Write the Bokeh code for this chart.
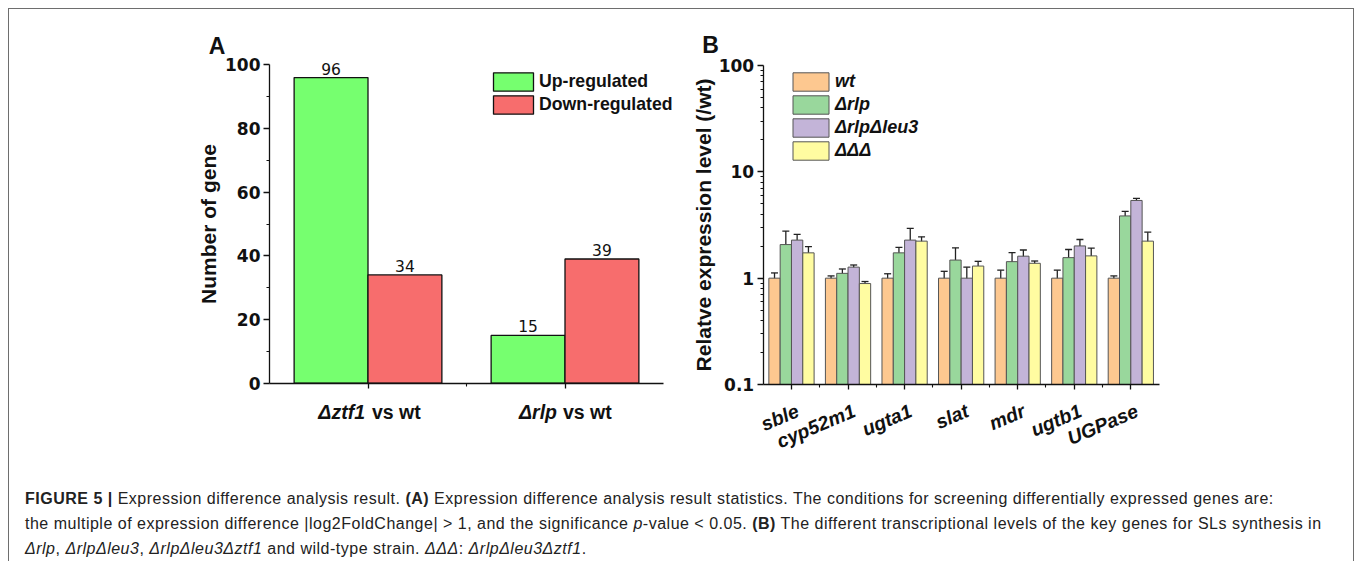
import numpy as np
from bokeh.plotting import figure
from bokeh.models import (ColumnDataSource, FixedTicker, Label, LabelSet, Legend, LegendItem,
                          Whisker, TeeHead, CustomJSTickFormatter, Div)
from bokeh.layouts import row, column
from bokeh.embed import file_html
from bokeh.resources import INLINE
from bokeh.core.properties import value

# ---------------- Panel A data ----------------
comparisons = ["Δztf1", "Δrlp"]
comparison_suffix = "vs wt"
a_series = ["Up-regulated", "Down-regulated"]
up_regulated = [96, 15]
down_regulated = [34, 39]
a_yticks = [0, 20, 40, 60, 80, 100]
a_yminor = [10, 30, 50, 70, 90]

# ---------------- Panel B data ----------------
genes = ["sble", "cyp52m1", "ugta1", "slat", "mdr", "ugtb1", "UGPase"]
strains = ["wt", "Δrlp", "ΔrlpΔleu3", "ΔΔΔ"]
expr_wt = [1.0, 1.0, 1.0, 1.0, 1.0, 1.0, 1.0]
err_wt = [0.12, 0.05, 0.10, 0.16, 0.19, 0.19, 0.05]
expr_rlp = [2.07, 1.11, 1.73, 1.48, 1.43, 1.56, 3.85]
err_rlp = [0.70, 0.11, 0.22, 0.45, 0.31, 0.30, 0.40]
expr_rlp_leu3 = [2.28, 1.27, 2.28, 1.00, 1.61, 2.01, 5.38]
err_rlp_leu3 = [0.30, 0.06, 0.66, 0.27, 0.23, 0.30, 0.25]
expr_ddd = [1.73, 0.89, 2.23, 1.30, 1.38, 1.62, 2.23]
err_ddd = [0.25, 0.04, 0.22, 0.14, 0.07, 0.30, 0.48]
b_yticks = [0.1, 1, 10, 100]

# ---------------- styles / layout geometry ----------------
A_COLORS = ["#76FF6F", "#F76D6D"]
B_COLORS = ["#FDC890", "#99D79C", "#C3B4D8", "#FFFCA1"]
ARIAL = "Liberation Sans"
DEJAVU = "DejaVu Sans"
INK = "#111111"

TOP_H = 468
A_W, B_W = 681, 663
# panel A: plot box inside its canvas (pixels): left, right, top, bottom
A_BOX = (260.0, 654.0, 55.3, 373.7)
# panel B: plot box inside its canvas (pixels)
B_BOX = (72.7, 468.6, 56.0, 375.0)


def lin_range(p0, p1, v0, v1, size):
    """data range covering the whole canvas, given that v0 sits at pixel p0 and v1 at p1"""
    k = (v1 - v0) / (p1 - p0)
    return v0 - p0 * k, v0 + (size - p0) * k


def style_axis(ax):
    ax.axis_line_width = 1.3
    ax.axis_line_color = INK
    ax.major_tick_line_color = INK
    ax.minor_tick_line_color = INK
    ax.major_tick_line_width = 1.3
    ax.minor_tick_line_width = 1.1
    ax.major_tick_in = 0
    ax.major_tick_out = 6
    ax.minor_tick_in = 0
    ax.minor_tick_out = 3
    ax.major_label_text_color = INK
    ax.axis_label_text_color = INK


# ================= Panel A =================
ax0, ax1 = lin_range(A_BOX[0], A_BOX[1], 0.5, 2.5, A_W)
ay1, ay0 = lin_range(A_BOX[2], A_BOX[3], 100, 0, TOP_H)
pA = figure(width=A_W, height=TOP_H, x_range=(ax0, ax1), y_range=(ay0, ay1),
            output_backend="svg", toolbar_location=None, min_border=0)
pA.grid.visible = False
pA.outline_line_color = None
pA.background_fill_color = None
pA.border_fill_color = None

xa = np.arange(1, len(comparisons) + 1)
bw_a = 0.375
srcA = [
    ColumnDataSource(dict(x=xa - bw_a / 2, top=up_regulated, lab=[str(v) for v in up_regulated])),
    ColumnDataSource(dict(x=xa + bw_a / 2, top=down_regulated, lab=[str(v) for v in down_regulated])),
]
rendA = []
for src, col in zip(srcA, A_COLORS):
    r = pA.vbar(x="x", top="top", bottom=0, width=bw_a, source=src,
                fill_color=col, line_color=INK, line_width=1.3)
    rendA.append(r)
    pA.add_layout(LabelSet(x="x", y="top", text="lab", source=src, text_align="center",
                           text_baseline="alphabetic", y_offset=3,
                           text_font=value(DEJAVU), text_font_size=value("15.5px"),
                           text_color=INK))

style_axis(pA.yaxis[0])
style_axis(pA.xaxis[0])
pA.yaxis.fixed_location = 0.5
pA.yaxis.bounds = (0, 100)
pA.yaxis.ticker = FixedTicker(ticks=a_yticks, minor_ticks=a_yminor)
pA.yaxis.axis_label = "Number of gene"
pA.yaxis.axis_label_text_font = ARIAL
pA.yaxis.axis_label_text_font_style = "bold"
pA.yaxis.axis_label_text_font_size = "21px"
pA.yaxis.axis_label_standoff = 2
pA.yaxis.major_label_text_font = DEJAVU
pA.yaxis.major_label_text_font_style = "bold"
pA.yaxis.major_label_text_font_size = "17px"
pA.yaxis.major_label_standoff = 3
pA.xaxis.fixed_location = 0
pA.xaxis.bounds = (0.5, 2.5)
pA.xaxis.ticker = FixedTicker(ticks=list(xa), minor_ticks=[1.5])
pA.xaxis.formatter = CustomJSTickFormatter(code="return '';")
pA.xaxis.major_tick_out = 5

# category labels: italic strain + upright "vs wt"
a_split_offsets = [(-3, 4), (-8, -2)]
for xi, name, (o1, o2) in zip(xa, comparisons, a_split_offsets):
    pA.add_layout(Label(x=float(xi), y=-9.83, x_offset=o1, y_offset=2, text=name,
                        text_align="right", text_baseline="alphabetic", text_font=ARIAL,
                        text_font_style="bold italic", text_font_size="19.5px",
                        text_color=INK))
    pA.add_layout(Label(x=float(xi), y=-9.83, x_offset=o2, y_offset=2, text=comparison_suffix,
                        text_align="left", text_baseline="alphabetic", text_font=ARIAL,
                        text_font_style="bold", text_font_size="19.5px",
                        text_color=INK))

legA = Legend(items=[LegendItem(label=s, renderers=[r]) for s, r in zip(a_series, rendA)],
              location=(479, 361), orientation="vertical", padding=0, margin=0, spacing=0,
              glyph_width=50, glyph_height=23, label_height=23, label_standoff=1,
              label_text_font=ARIAL, label_text_font_style="bold",
              label_text_font_size="17.7px", label_text_color=INK,
              border_line_color=None, background_fill_alpha=0)
pA.add_layout(legA)

pA.add_layout(Label(x=0.2335, y=106.06, text="A", text_align="center",
                    text_baseline="alphabetic", text_font=ARIAL, text_font_style="bold",
                    text_font_size="23px", text_color=INK))

# ================= Panel B =================
bx0, bx1 = lin_range(B_BOX[0], B_BOX[1], 0.5, 7.5, B_W)
ly1, ly0 = lin_range(B_BOX[2], B_BOX[3], 2.0, -1.0, TOP_H)
pB = figure(width=B_W, height=TOP_H, x_range=(bx0, bx1), y_range=(10 ** ly0, 10 ** ly1),
            y_axis_type="log", output_backend="svg", toolbar_location=None, min_border=0)
pB.grid.visible = False
pB.outline_line_color = None
pB.background_fill_color = None
pB.border_fill_color = None

xb = np.arange(1, len(genes) + 1)
offsets_b = [-0.3, -0.1, 0.1, 0.3]
bw_b = 0.2
series_b = [(expr_wt, err_wt), (expr_rlp, err_rlp), (expr_rlp_leu3, err_rlp_leu3), (expr_ddd, err_ddd)]
rendB = []
for (vals, errs), off, col in zip(series_b, offsets_b, B_COLORS):
    v = np.array(vals)
    e = np.array(errs)
    src = ColumnDataSource(dict(x=xb + off, top=v, upper=v + e, lower=v - e))
    r = pB.vbar(x="x", top="top", bottom=0.1, width=bw_b, source=src,
                fill_color=col, line_color="#555555", line_width=1.0)
    rendB.append(r)
    pB.add_layout(Whisker(base="x", upper="upper", lower="lower", source=src,
                          line_color="#222222", line_width=1.3,
                          upper_head=TeeHead(size=7, line_color="#222222", line_width=1.3),
                          lower_head=TeeHead(size=7, line_color="#222222", line_width=1.3)))

style_axis(pB.yaxis[0])
style_axis(pB.xaxis[0])
pB.yaxis.fixed_location = 0.5
pB.yaxis.bounds = (0.1, 100)
pB.yaxis.ticker = FixedTicker(
    ticks=b_yticks,
    minor_ticks=[m * d for d in (0.1, 1, 10) for m in range(2, 10)])
pB.yaxis.formatter = CustomJSTickFormatter(code="return tick < 1 ? tick.toFixed(1) : tick.toFixed(0);")
pB.yaxis.axis_label = "Relatve expression level (/wt)"
pB.yaxis.axis_label_text_font = ARIAL
pB.yaxis.axis_label_text_font_style = "bold"
pB.yaxis.axis_label_text_font_size = "21px"
pB.yaxis.axis_label_standoff = 1
pB.yaxis.major_label_text_font = DEJAVU
pB.yaxis.major_label_text_font_style = "bold"
pB.yaxis.major_label_text_font_size = "17px"
pB.yaxis.major_label_standoff = 3
pB.xaxis.fixed_location = 0.1
pB.xaxis.bounds = (0.5, 7.5)
pB.xaxis.ticker = FixedTicker(ticks=list(xb), minor_ticks=list(xb[:-1] + 0.5))
pB.xaxis.formatter = CustomJSTickFormatter(code="return '';")
pB.xaxis.major_tick_out = 5

gene_src = ColumnDataSource(dict(x=xb, y=[0.1] * len(genes), name=genes))
pB.add_layout(LabelSet(x="x", y="y", text="name", source=gene_src, x_offset=2, y_offset=-15,
                       angle=0.4, text_align="right", text_baseline="top",
                       text_font=value(ARIAL), text_font_style=value("bold italic"),
                       text_font_size=value("19.5px"), text_color=INK))

legB = Legend(items=[LegendItem(label=s, renderers=[r]) for s, r in zip(strains, rendB)],
              location=(98, 315), orientation="vertical", padding=0, margin=0, spacing=0,
              glyph_width=45, glyph_height=23, label_height=23, label_standoff=2,
              label_text_font=ARIAL, label_text_font_style="bold italic",
              label_text_font_size="18px", label_text_color=INK,
              border_line_color=None, background_fill_alpha=0)
pB.add_layout(legB)

pB.add_layout(Label(x=-0.432, y=154.3, text="B", text_align="center",
                    text_baseline="alphabetic", text_font=ARIAL, text_font_style="bold",
                    text_font_size="23px", text_color=INK))

# ================= Caption =================
caption_html = (
    '<div style="padding:9px 0 0 16px; font-family:\'Liberation Sans\'; font-size:16px; '
    'letter-spacing:0.5px; line-height:25px; color:#222; white-space:nowrap;">'
    '<b>FIGURE 5 |</b> Expression difference analysis result. <b>(A)</b> Expression difference '
    'analysis result statistics. The conditions for screening differentially expressed genes are:<br>'
    'the multiple of expression difference |log2FoldChange| &gt; 1, and the significance '
    '<i>p</i>-value &lt; 0.05. <b>(B)</b> The different transcriptional levels of the key genes '
    'for SLs synthesis in<br>'
    '<i>Δrlp</i>, <i>ΔrlpΔleu3</i>, <i>ΔrlpΔleu3Δztf1</i> and wild-type strain. '
    '<i>ΔΔΔ</i>: <i>ΔrlpΔleu3Δztf1</i>.'
    '</div>'
)
cap = Div(text=caption_html, width=A_W + B_W, height=84, margin=0)

layout = column(row(pA, pB), cap, margin=(8, 0, 0, 8),
                styles={"border-top": "1px solid #6e6e6e", "border-left": "1px solid #6e6e6e",
                        "border-right": "1px solid #6e6e6e"})

open("out.html", "w").write(file_html(layout, INLINE))
